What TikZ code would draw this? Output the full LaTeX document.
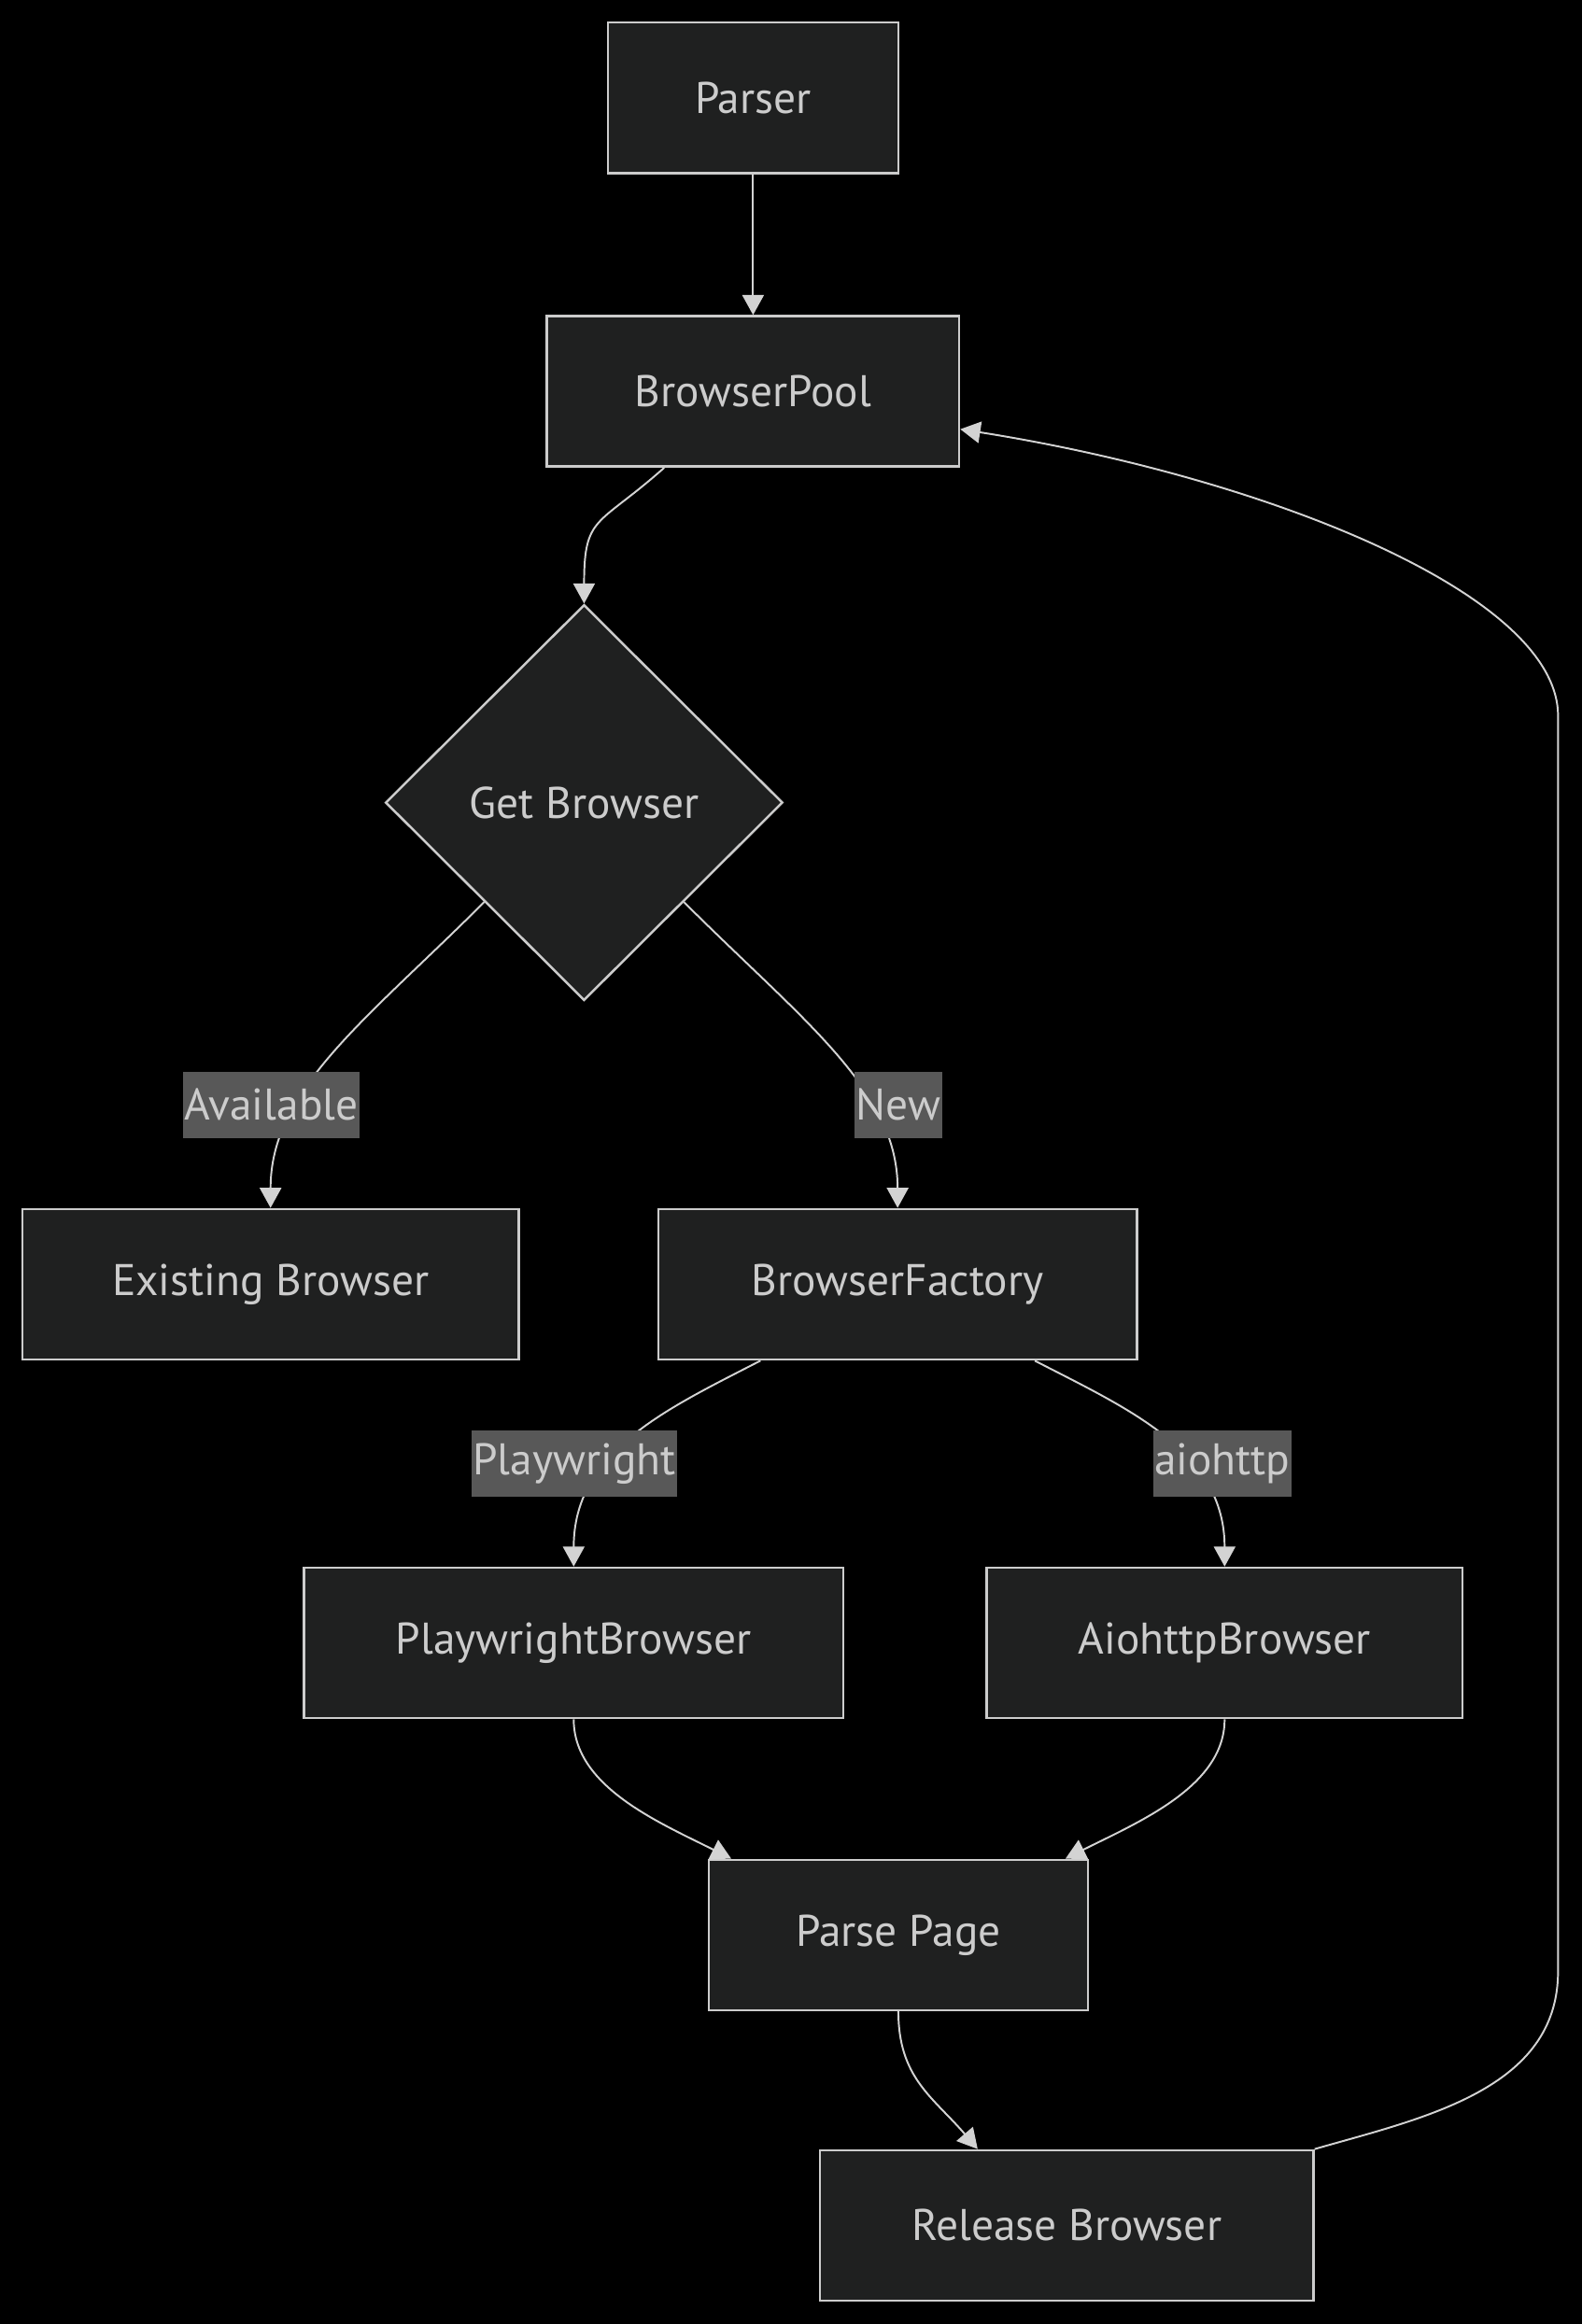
\documentclass[tikz,border=0pt]{standalone}
\usepackage{fontspec}
\setmainfont{PT Sans}
\usepackage{tikz}
\usetikzlibrary{positioning,arrows.meta,shapes.geometric}
\definecolor{nodefill}{HTML}{1F2020}
\definecolor{nodeline}{HTML}{CCCCCC}
\definecolor{nodetext}{HTML}{CCCCCC}
\definecolor{lblfill}{HTML}{585858}
\definecolor{linegray}{HTML}{D3D3D3}
\tikzset{%
  arrow/.style    = { -{Triangle[length=0.27cm, width=0.29cm]}, line width = 0.7pt, draw = linegray },
  tbox/.style     = { fill = nodefill, draw = nodeline, line width = 0.9pt, text = nodetext, align = center,
                      font = \fontsize{17pt}{20pt}\selectfont,
                      minimum width = #1, minimum height = 2.03cm, inner sep = 0pt },
  dbox/.style     = { diamond, fill = nodefill, draw = nodeline, line width = 0.9pt, text = nodetext,
                      font = \fontsize{17pt}{20pt}\selectfont,
                      minimum width = 5.36cm, minimum height = 5.34cm, inner sep = 0pt },
  elabel/.style   = { fill = lblfill, text = nodetext, font = \fontsize{17pt}{20pt}\selectfont,
                      minimum height = 0.9cm, inner xsep = 0.5pt, inner ysep = 0pt }
}

\begin{document}
\begin{tikzpicture}
  \fill[black] (0,0) rectangle (21.34,-31.36);
  \useasboundingbox (0,0) rectangle (21.34,-31.36);
  \node(parser)[tbox=3.92cm] at (10.16,-1.32) {Parser};
  \node(pool)[tbox=5.56cm, below = 1.9cm of parser] {BrowserPool};
  \node(get)[dbox] at (7.88,-10.83) {Get Browser};
  \node(existing)[tbox=6.7cm] at (3.65,-17.33) {Existing Browser};
  \node(factory)[tbox=6.46cm] at (12.11,-17.33) {BrowserFactory};
  \node(playwright)[tbox=7.28cm] at (7.74,-22.17) {PlaywrightBrowser};
  \node(aiohttp)[tbox=6.42cm, right = 1.9cm of playwright] {AiohttpBrowser};
  \node(parse)[tbox=5.12cm] at (12.12,-26.11) {Parse Page};
  \node(release)[tbox=6.66cm] at (14.39,-30.03) {Release Browser};
  \coordinate (loopr) at (21.02,-26.6);
  \coordinate (loopt) at (21.02,-9.66);
  \draw[arrow] (parser) -- (pool);
  \draw[arrow] ([xshift=-1.2cm]pool.south) .. controls +(-0.9,-0.8) and +(0,1.2) .. (get.north);
  \draw[arrow] (get.south west) .. controls +(-1.6,-1.6) and +(0,1.6) .. (existing.north);
  \draw[arrow] (get.south east) .. controls +(1.6,-1.6) and +(0,1.6) .. (factory.north);
  \draw[arrow] ([xshift=-1.85cm]factory.south) .. controls +(-1.26,-0.65) and +(0,1.56) .. (playwright.north);
  \draw[arrow] ([xshift=1.85cm]factory.south) .. controls +(1.26,-0.65) and +(0,1.56) .. (aiohttp.north);
  \draw[arrow] (playwright.south) .. controls +(0,-0.9) and +(-1.0,0.5) .. ([xshift=0.32cm]parse.north west);
  \draw[arrow] (aiohttp.south) .. controls +(0,-0.9) and +(1.0,0.5) .. ([xshift=-0.32cm]parse.north east);
  \draw[arrow] (parse.south) .. controls +(0,-0.9) and +(-0.6,0.7) .. ([xshift=-1.2cm]release.north);
  \draw[arrow] (release.north east) .. controls +(1.46,0.42) and +(0,-1.6) .. (loopr) -- (loopt)
    .. controls +(0,1.66) and +(4.06,-0.64) .. ([yshift=-0.51cm]pool.east);
  \node(lavail)[elabel] at (3.66,-14.91) {Available};
  \node(lnew)[elabel] at (12.12,-14.91) {New};
  \node(lplay)[elabel] at (7.75,-19.75) {Playwright};
  \node(laio)[elabel] at (16.49,-19.75) {aiohttp};
\end{tikzpicture}
\end{document}
